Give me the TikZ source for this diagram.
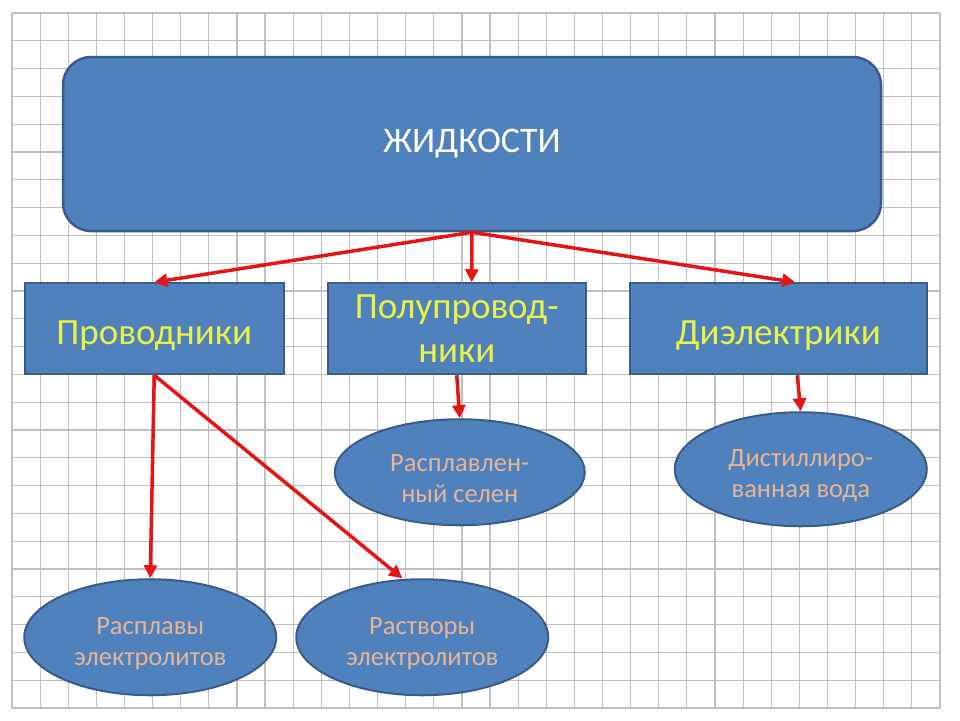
\documentclass[tikz,border=0pt]{standalone}
\usepackage{xcolor}
\usepackage{fontspec}
\setmainfont{Carlito}
\usepackage{tikz}
\usetikzlibrary{arrows.meta, positioning, shapes.geometric}

\begin{document}
\begin{tikzpicture}[
    x=1pt, y=1pt,
    gridline/.style={draw=gridgray, line width=1.2pt},
    topbox/.style={
        rectangle,
        rounded corners=28pt,
        draw=boxedge,
        fill=boxblue,
        line width=2.5pt,
        minimum width=818pt,
        minimum height=174pt,
        text=white,
        font=\fontsize{36}{44}\selectfont
    },
    box/.style={
        rectangle,
        draw=boxedge,
        fill=boxblue,
        line width=2pt,
        align=center,
        minimum height=91pt,
        text=boxtext,
        font=\fontsize{37}{44}\selectfont,
        execute at begin node={\rule{0pt}{37pt}}
    },
    oval/.style={
        ellipse,
        draw=boxedge,
        fill=boxblue,
        line width=2pt,
        inner sep=0pt,
        align=center,
        text=ovaltext,
        text height=60pt,
        font=\fontsize{26.5}{31}\selectfont
    },
    arrow/.style={-{Triangle[length=13pt,width=13pt]}, draw=arrowred, line width=3.5pt}
]

% Colors
\definecolor{gridgray}{RGB}{192,192,192}
\definecolor{boxblue}{RGB}{79,129,189}
\definecolor{boxedge}{RGB}{56,93,138}
\definecolor{boxtext}{RGB}{235,242,70}
\definecolor{ovaltext}{RGB}{232,180,150}
\definecolor{arrowred}{RGB}{230,20,20}

\useasboundingbox (0,0) rectangle (960,-720);

% Grid
\foreach \i in {0,...,33}
    \draw[gridline] ({12+\i*28.12},-13) -- ({12+\i*28.12},-708);
\foreach \j in {0,...,25}
    \draw[gridline] (12,{-13-\j*27.8}) -- (940,{-13-\j*27.8});

% Top
\node[topbox] (liquids) at (472,-144) {ЖИДКОСТИ};

% Row 1
\node[box, minimum width=259pt, below right=50pt and -38pt of liquids.south west] (cond) {Проводники};

\node[box, minimum width=258pt, right=42pt of cond] (semi) {Полупровод-\\ники};

\node[box, minimum width=297pt, right=42pt of semi] (diel) {Диэлектрики};

% Row 2
\node[oval, minimum width=250pt, minimum height=106pt, below=43pt of semi, xshift=3pt] (selen) {Расплавлен-\\ный селен};

\node[oval, minimum width=252pt, minimum height=114pt, below=36pt of diel, xshift=22.5pt] (water) {Дистиллиро-\\ванная вода};

% Row 3
\node[oval, minimum width=252pt, minimum height=116pt, below=203pt of cond, xshift=-4pt] (melt) {Расплавы\\электролитов};

\node[oval, minimum width=252pt, minimum height=116pt, right=18pt of melt] (solut) {Растворы\\электролитов};

% Arrows
\draw[arrow] (liquids.south) -- (cond.north);

\draw[arrow] (liquids.south) -- ([xshift=15pt]semi.north);

\draw[arrow] (liquids.south) -- ([xshift=17pt]diel.north);

\draw[arrow] (cond.south) -- (melt.north);

\draw[arrow] (cond.south) -- ([xshift=-20pt]solut.north);

\draw[arrow] (semi.south) -- (selen.north);

\draw[arrow] ([xshift=19pt]diel.south) -- (water.north);

\end{tikzpicture}
\end{document}
